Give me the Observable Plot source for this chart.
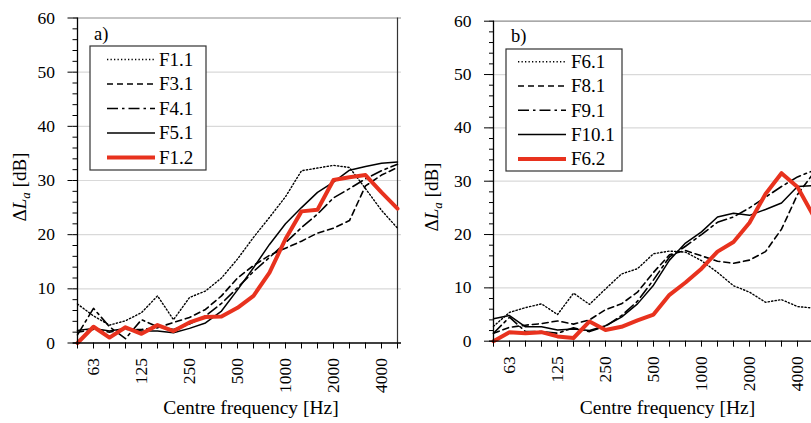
<!DOCTYPE html>
<html><head><meta charset="utf-8">
<script src="https://cdn.jsdelivr.net/npm/d3@7"></script>
<script src="https://cdn.jsdelivr.net/npm/@observablehq/plot@0.6"></script>
<style>
html,body{margin:0;padding:0;background:#fff;}
body{width:811px;height:423px;overflow:hidden;position:relative;font-family:"Liberation Serif","Times New Roman",serif;}
.panel{position:absolute;top:0;width:416px;height:423px;}
.panel svg{max-width:none !important;}
.panel svg, .panel svg text{font-family:"Liberation Serif","Times New Roman",serif !important;}
</style></head><body>
<div id="pa" class="panel" style="left:0px"></div>
<div id="pb" class="panel" style="left:416px"></div>
<script>
// 1/3-octave band centre frequencies
const bands = ["50","63","80","100","125","160","200","250","315","400","500","630","800","1000","1250","1600","2000","2500","3150","4000","5000"];
const tickLabels = ["63","125","250","500","1000","2000","4000"];
const yTicks = [0,10,20,30,40,50,60];
const yMinor = d3.range(0, 61, 2);

// Panel a)
const namesA = ["F1.1","F3.1","F4.1","F5.1","F1.2"];
const F1_1 = [7.2,5.0,3.3,4.1,5.6,8.7,4.3,8.4,9.6,12.0,15.5,19.5,23.2,27.0,31.8,32.3,32.8,32.4,28.5,24.5,21.2];
const F3_1 = [2.0,2.5,2.0,2.5,2.5,2.8,3.8,4.7,6.2,8.7,12.0,14.3,16.2,17.5,18.8,20.3,21.2,22.6,29.0,31.0,32.4];
const F4_1 = [1.5,6.4,3.0,0.8,4.3,3.0,2.5,3.5,5.0,7.3,10.2,13.2,15.8,18.5,21.3,23.8,26.8,28.5,30.3,31.8,33.0];
const F5_1 = [2.3,2.7,2.2,2.7,2.2,2.2,1.9,2.7,3.7,5.9,9.8,13.9,18.2,22.0,25.0,27.8,29.7,31.9,32.6,33.2,33.4];
const F1_2 = [0.0,3.0,1.0,2.9,1.7,3.3,2.2,3.8,4.8,4.9,6.5,8.7,13.0,19.2,24.3,24.6,30.1,30.6,31.0,27.8,24.8];

// Panel b)
const namesB = ["F6.1","F8.1","F9.1","F10.1","F6.2"];
const F6_1 = [2.8,5.4,6.3,7.0,5.0,9.0,6.9,9.8,12.6,13.6,16.4,16.9,16.7,15.1,12.9,10.4,9.2,7.3,7.8,6.5,6.2];
const F8_1 = [1.5,2.6,3.0,3.3,3.8,3.2,4.0,5.9,7.0,9.2,12.9,16.2,17.0,16.0,15.0,14.6,15.2,16.8,21.0,27.5,31.5];
const F9_1 = [1.5,4.5,1.8,1.8,1.5,2.5,1.8,2.8,4.8,7.5,11.5,15.8,17.8,20.0,22.3,23.3,25.0,27.0,29.0,30.8,32.0];
const F10_1 = [4.2,4.8,2.7,2.7,2.1,2.3,2.0,2.9,4.5,7.0,10.5,15.2,18.4,20.5,23.3,24.0,23.6,24.7,25.9,29.0,29.2];
const F6_2 = [0.0,1.7,1.5,1.7,0.9,0.6,3.7,2.1,2.7,3.9,5.0,8.7,11.0,13.6,16.8,18.6,22.2,27.6,31.5,28.9,23.5];

const RED = "#e8321e";
const FONT = "'Liberation Serif','Times New Roman',serif";
const styles = [
  {stroke:"#000", strokeWidth:1.4, strokeDasharray:"1.3 2.2"},
  {stroke:"#000", strokeWidth:1.6, strokeDasharray:"6 4"},
  {stroke:"#000", strokeWidth:1.6, strokeDasharray:"11 4 2.5 4"},
  {stroke:"#000", strokeWidth:1.5},
  {stroke:RED, strokeWidth:4, strokeLinejoin:"round"}
];

function panel(el, names, series, g) {
  const lines = series.map((vals, k) => Plot.line(vals, {x: (d,i) => bands[i], y: d => d, ...styles[k]}));
  const chart = Plot.plot({
    width: g.width, height: 423,
    marginLeft: g.ml, marginRight: g.mr, marginTop: g.mt, marginBottom: g.mb,
    style: {fontFamily: FONT, fontSize: "17px", color: "#000", background: "transparent", overflow: "visible", maxWidth: "none"},
    x: {type: "point", domain: bands, padding: 0},
    y: {domain: [0, 60]},
    marks: [
      Plot.ruleY([10,20,30,40,50], {stroke: "#d9d9d9", strokeWidth: 1.2}),
      Plot.ruleY([60], {stroke: "#8c8c8c", strokeWidth: 1.2}),
      Plot.ruleX([bands[bands.length-1]], {stroke: "#333", strokeWidth: 1.2}),
      ...lines,
      Plot.ruleX([bands[0]], {stroke: "#000", strokeWidth: 1.3}),
      Plot.ruleY([0], {stroke: "#000", strokeWidth: 1.3}),
      Plot.axisX(bands, {tickSize: 6, tickFormat: () => "", label: null}),
      Plot.axisX(tickLabels, {tickSize: 0, tickPadding: 15, tickRotate: -90, fontSize: 17.5, label: null}),
      Plot.axisY(yTicks, {tickSize: 5, tickPadding: 13, fontSize: 17.5, label: null}),
      Plot.axisY(yMinor, {tickSize: -5, tickFormat: () => "", label: null})
    ]
  });
  chart.style.maxWidth = "none";
  chart.setAttribute("font-family", FONT);
  chart.style.fontFamily = FONT;
  el.appendChild(chart);
  const svg = d3.select(chart);
  // panel letter
  svg.append("text").attr("x", g.letterX).attr("y", g.letterY).attr("text-anchor", "start").attr("font-size", 18.5).text(g.letter);
  // y axis title
  const yt = svg.append("text").attr("transform", `translate(${g.ytX},${g.ytY}) rotate(-90)`)
    .attr("text-anchor", "middle").attr("font-size", 19);
  yt.append("tspan").text("\u0394");
  yt.append("tspan").attr("font-style", "italic").text("L");
  yt.append("tspan").attr("font-style", "italic").attr("font-size", 13).attr("dy", 4).text("a");
  yt.append("tspan").attr("dy", -4).text(" [dB]");
  // x axis title
  svg.append("text").attr("x", g.xtX).attr("y", 414).attr("text-anchor", "middle").attr("font-size", 19.5)
    .text("Centre frequency [Hz]");
  // legend
  const L = g.legend;
  const lg = svg.append("g");
  lg.append("rect").attr("x", L.x).attr("y", L.y).attr("width", L.w).attr("height", L.h)
    .attr("fill", "#fff").attr("stroke", "#333").attr("stroke-width", 1.2);
  names.forEach((n, k) => {
    const yy = L.y + L.first + k * L.step;
    const s = styles[k];
    const ln = lg.append("line").attr("x1", L.x + L.l1).attr("x2", L.x + L.l2).attr("y1", yy).attr("y2", yy)
      .attr("stroke", s.stroke).attr("stroke-width", s.strokeWidth);
    if (s.strokeDasharray) ln.attr("stroke-dasharray", s.strokeDasharray);
    lg.append("text").attr("x", L.x + L.tx).attr("y", yy).attr("dy", "0.34em").attr("text-anchor", "start")
      .attr("font-size", 19).text(n);
  });
}

panel(document.getElementById("pa"), namesA, [F1_1, F3_1, F4_1, F5_1, F1_2], {
  width: 416, ml: 72.5, mr: 15, mt: 17.5, mb: 80.5,
  letter: "a)", letterX: 94, letterY: 40,
  ytX: 26, ytY: 187, xtX: 251,
  legend: {x: 90, y: 46, w: 116, h: 124, first: 13.5, step: 24.5, l1: 17, l2: 65, tx: 69}
});
panel(document.getElementById("pb"), namesB, [F6_1, F8_1, F9_1, F10_1, F6_2], {
  width: 416, ml: 73, mr: 15, mt: 20.7, mb: 82.3,
  letter: "b)", letterX: 95, letterY: 42,
  ytX: 22, ytY: 197, xtX: 251.5,
  legend: {x: 90, y: 49, w: 116, h: 122, first: 12.7, step: 24.3, l1: 12, l2: 60, tx: 65}
});
</script>
</body></html>
